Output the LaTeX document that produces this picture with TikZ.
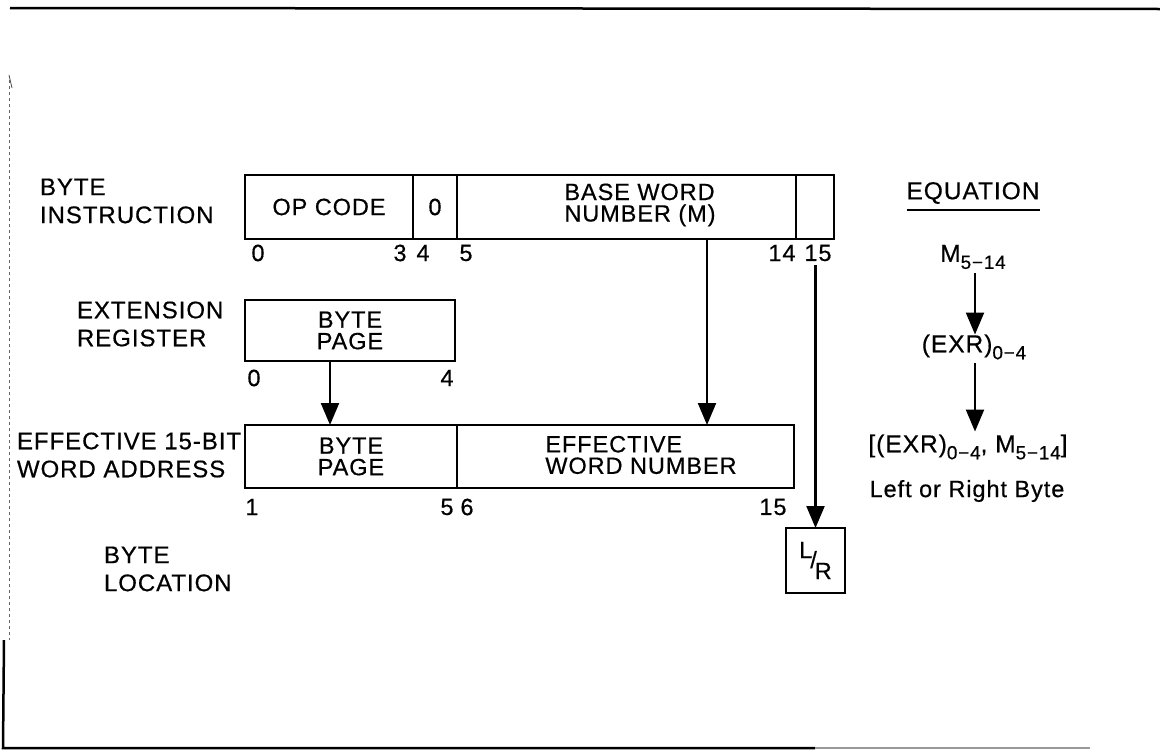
\documentclass[tikz,border=0pt]{standalone}
\usepackage{fontspec}
\setmainfont{Liberation Sans}[LetterSpace=4, FakeBold=0.5]
\usetikzlibrary{arrows.meta}
\newcommand{\subx}[1]{\raisebox{-7pt}{\fontsize{19}{19}\selectfont #1}}
\begin{document}
\begin{tikzpicture}[x=1pt,y=-1pt,
  every node/.style={font=\fontsize{23.5}{21.5}\selectfont, inner sep=0pt, outer sep=0pt},
  fld/.style={draw, line width=1.8pt, anchor=north west, align=center, minimum height=64pt},
  lbl/.style={anchor=west, align=left, font=\fontsize{24}{28}\selectfont},
  txt/.style={align=left},
  eqt/.style={font=\fontsize{24.5}{24.5}\selectfont},
  arr/.style={line width=2.2pt, -{Triangle[length=22pt,width=18pt]}},
  uline/.style={line width=2pt},
  frame/.style={line width=2.5pt}]
\useasboundingbox (0,0) rectangle (1160,750);

% frame
\draw[frame] (10,8) -- (1160,9);
\draw[line width=0.8pt, dashed, black!60] (9,80) -- (9,640);
\draw[line width=0.8pt, black!70] (9,75) -- (12,88);
\draw[frame] (4,640) -- (3,748) -- (815,748);
\draw[line width=2pt, black!40] (815,748) -- (1090,748);

% byte instruction
\node[lbl] (bi) at (40,201) {BYTE\\INSTRUCTION};
\node[fld, minimum width=168pt] (op) at (245,175) {OP CODE};
\node[fld, minimum width=44pt] (zr) at (413,175) {0};
\node[fld, minimum width=339pt] (base) at (457,175) {};
\node[txt] (basetxt) at (640,205) {BASE WORD\\NUMBER (M)};
\node[fld, minimum width=38pt] (b15) at (796,175) {};
\node (n0) at (258,253) {0};
\node (n3) at (400,253) {3};
\node (n4) at (423,253) {4};
\node (n5) at (466,253) {5};
\node (n14) at (782,253) {14};
\node (n15) at (818,253) {15};

% extension register
\node[lbl] (er) at (77,324) {EXTENSION\\REGISTER};
\node[fld, minimum width=210pt, minimum height=61pt] (ext) at (245,300) {BYTE\\PAGE};
\node (e0) at (254,378) {0};
\node (e4) at (447,378) {4};

% effective word address
\node[lbl] (ew) at (17,455) {EFFECTIVE 15-BIT\\WORD ADDRESS};
\node[fld, minimum width=212pt, minimum height=63pt] (epage) at (245,425) {BYTE\\PAGE};
\node[fld, minimum width=337pt, minimum height=63pt] (eword) at (457,425) {};
\node[txt] (ewtxt) at (641,455) {EFFECTIVE\\WORD NUMBER};
\node (f1) at (252,507) {1};
\node (f5) at (447,507) {5};
\node (f6) at (467,507) {6};
\node (f15) at (773,507) {15};

% byte location
\node[lbl] (bl) at (104,569) {BYTE\\LOCATION};
\node[draw, line width=1.8pt, minimum width=59pt, minimum height=65pt] (lr) at (815.5,560.5)
  {\raisebox{8pt}{L}\kern-2pt\raisebox{-2pt}{/}\kern-2pt\raisebox{-13pt}{R}};

% arrows in diagram
\draw[arr] ([xshift=-20pt]ext.south) -- ([xshift=-20pt]ext.south |- epage.north);
\draw[arr] ([xshift=80.5pt]base.south) -- ([xshift=80.5pt]base.south |- eword.north);
\draw[arr] ([yshift=-4pt]n15.south -| lr.north) -- (lr.north);

% equation
\node[eqt] (eqh) at (973,193) {EQUATION};
\draw[uline] ([yshift=-6pt]eqh.south west) -- ([yshift=-6pt]eqh.south east);
\node[eqt] (m) at (973,257) {M\subx{5−14}};
\node[eqt] (exr) at (974,347) {(EXR)\subx{0−4}};
\node[eqt] (fin) at (968,447) {[(EXR)\subx{0−4}, M\subx{5−14}]};
\node[font=\fontsize{23.5}{23.5}\selectfont] (lrb) at (967,491) {Left or Right Byte};
\draw[arr] ([yshift=-4pt]m.south -| 975,0) -- (exr.north -| 975,0);
\draw[arr] ([yshift=-4pt]exr.south -| 975,0) -- ([yshift=3pt]fin.north -| 975,0);
\end{tikzpicture}
\end{document}
